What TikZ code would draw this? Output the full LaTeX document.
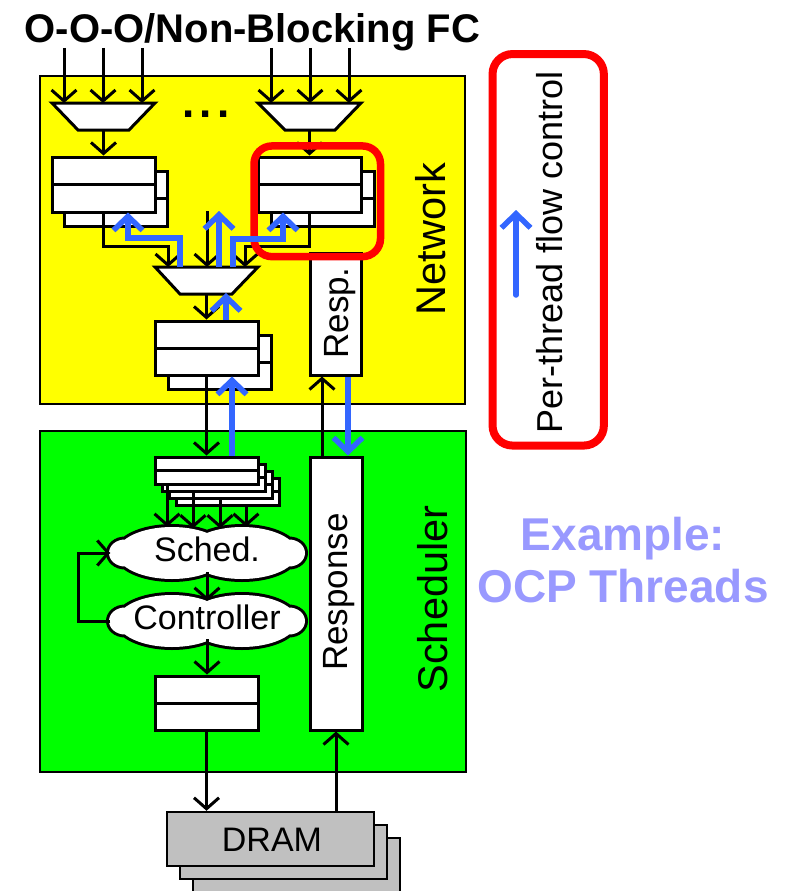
\documentclass[tikz,border=0pt]{standalone}
\usepackage{fontspec}
\setmainfont{Liberation Sans}
\usetikzlibrary{arrows.meta,shapes.geometric,calc}
\definecolor{ylw}{RGB}{255,255,0}
\definecolor{grn}{RGB}{0,255,0}
\definecolor{flowblue}{RGB}{51,102,255}
\definecolor{exblue}{RGB}{153,153,255}
\definecolor{dramgray}{RGB}{192,192,192}
\definecolor{redline}{RGB}{255,0,0}
\begin{document}
\begin{tikzpicture}[x=1pt,y=-1pt,
  arr/.style={line width=3pt,-{Straight Barb[length=11pt,width=25pt]}},
  barr/.style={line width=5.5pt,draw=flowblue,-{Straight Barb[length=14pt,width=29pt]}},
  buf/.style={draw,fill=white,line width=3pt,inner sep=0pt,minimum width=103pt,minimum height=55pt,
    path picture={\draw[line width=3pt] (path picture bounding box.west) -- (path picture bounding box.east);}},
  sbuf/.style={buf,minimum height=27pt},
  plainbox/.style={draw,fill=white,line width=3pt,inner sep=0pt},
  drambox/.style={draw,fill=dramgray,line width=2.5pt,inner sep=0pt,minimum width=207pt,minimum height=54pt},
  mux/.style={draw,fill=white,line width=3pt},
  region/.style={draw,line width=2pt,inner sep=0pt,anchor=north west},
  hilite/.style={draw=redline,line width=7.5pt,rounded corners=18pt,inner sep=0pt},
  anchorell/.style={ellipse,inner sep=0pt,minimum width=193pt,minimum height=52pt},
  lbl/.style={font=\fontsize{34}{40}\selectfont,anchor=base},
]
\useasboundingbox (0,0) rectangle (787,891);

% regions
\node[region,fill=ylw,minimum width=425pt,minimum height=328pt] (network) at (39,75) {};
\node[region,fill=grn,minimum width=426pt,minimum height=341pt] (scheduler) at (39,430) {};

% title
\node[font=\fontsize{40}{48}\selectfont\bfseries,anchor=base,inner sep=0pt] (title) at (252.5,43) {O-O-O/Non-Blocking FC};

% muxes
\draw[mux] (52,103) -- (155,103) -- (129,130) -- (78,130) -- cycle;
\draw[mux] (258,103) -- (361,103) -- (335,130) -- (285,130) -- cycle;
\draw[mux] (155,267) -- (258,267) -- (232,294) -- (180,294) -- cycle;
\coordinate (lmuxout) at (103.5,130);
\coordinate (rmuxout) at (309.5,130);
\coordinate (cmuxout) at (206.5,294);
\coordinate (cmA) at (168,267);
\coordinate (cmB) at (207,267);
\coordinate (cmC) at (245,267);
\coordinate (cmIn) at (207,211);
\coordinate (cmBlueL) at (180,267);
\coordinate (cmBlueM) at (219,267);
\coordinate (cmBlueMtip) at (219,211);
\coordinate (cmBlueR) at (233,267);
\coordinate (cmBlueBot) at (226,293);

\node[font=\fontsize{44}{44}\selectfont\bfseries,anchor=base,inner sep=0pt] (dots) at (206,117) {.\kern5pt.\kern5pt.};

% input arrows
\foreach \xx [count=\i] in {64,103,142,271,310,349}{
  \coordinate (inS\i) at (\xx,48);
  \coordinate (inE\i) at (\xx,103);
  \draw[arr] (inS\i) -- (inE\i);
}

% buffers in network
\node[buf] (lbfb) at (115.5,198.5) {};
\node[buf] (lbf) at (103.5,184.5) {};
\node[buf] (rbfb) at (322.5,198.5) {};
\node[buf] (rbf) at (309.5,184.5) {};
\node[buf,minimum height=54pt] (cbfb) at (219.5,362) {};
\node[buf,minimum height=54pt] (cbf) at (206.5,348) {};

% response boxes
\node[plainbox,minimum width=51pt,minimum height=122pt] (resp) at (335.5,314) {};
\node[rotate=90,anchor=base,font=\fontsize{35}{40}\selectfont,inner sep=0pt] (resplbl) at (348,313) {Resp.};
\node[plainbox,minimum width=52pt,minimum height=273pt] (response) at (336,593.5) {};
\node[rotate=90,anchor=base,font=\fontsize{35}{40}\selectfont,inner sep=0pt] (responselbl) at (347,592) {Response};

% scheduler buffer stack
\node[sbuf] (sb4) at (227.5,491.5) {};
\node[sbuf] (sb3) at (220.5,484.5) {};
\node[sbuf] (sb2) at (213.5,477.5) {};
\node[sbuf] (sb1) at (206.5,470.5) {};

% clouds
\foreach \cy in {553,621}{
  \draw[line width=6pt,fill=white] (172,\cy) ellipse [x radius=55pt,y radius=26pt]
    (242,\cy) ellipse [x radius=55pt,y radius=26pt]
    (125,\cy) ellipse [x radius=16pt,y radius=13.5pt]
    (289,\cy) ellipse [x radius=16pt,y radius=13.5pt];
  \fill[white] (172,\cy) ellipse [x radius=55pt,y radius=26pt]
    (242,\cy) ellipse [x radius=55pt,y radius=26pt]
    (125,\cy) ellipse [x radius=16pt,y radius=13.5pt]
    (289,\cy) ellipse [x radius=16pt,y radius=13.5pt];
}
\node[anchorell] (sched) at (207,553) {};
\node[anchorell] (ctrl) at (207,621) {};
\node[lbl] (schedlbl) at (207,561) {Sched.};
\node[lbl] (ctrllbl) at (207,629) {Controller};

% lower buffer
\node[buf,minimum height=54pt] (lowbuf) at (206.5,703) {};

% DRAM
\node[drambox] (dram3) at (296.5,865) {};
\node[drambox] (dram2) at (283.5,852) {};
\node[drambox] (dram1) at (270.5,839) {};
\node[lbl] (dramlbl) at (272,851) {DRAM};

% region labels
\node[rotate=90,anchor=base,font=\fontsize{41.5}{48}\selectfont,inner sep=0pt] (netlbl) at (445,239) {Network};
\node[rotate=90,anchor=base,font=\fontsize{41.5}{48}\selectfont,inner sep=0pt] (schlbl) at (447,599) {Scheduler};

% black connectors
\draw[arr] (lmuxout) -- (lbf.north);
\draw[arr] (rmuxout) -- (rbf.north);
\draw[arr] (lbf.south) -- ++(0,33) -| (cmA);
\draw[arr] (rbf.south) -- ++(0,33) -| (cmC);
\draw[arr] (cmIn) -- (cmB);
\draw[arr] (cmuxout) -- (cbf.north);
\draw[arr] (cbf.south) -- (sb1.north);
\draw[arr] ([xshift=-14pt]response.north) -- ([xshift=-13.5pt]resp.south);
\draw[arr] ([xshift=-39.5pt]sb1.south) -- ([xshift=-39.5pt]sb1.south |- sched.north);
\draw[arr] ([xshift=-20.5pt]sb2.south) -- ([xshift=-20.5pt,yshift=-1.5pt]sb2.south |- sched.north);
\draw[arr] ([xshift=-0.5pt]sb3.south) -- ([xshift=-0.5pt,yshift=-1.5pt]sb3.south |- sched.north);
\draw[arr] ([xshift=18.5pt]sb4.south) -- ([xshift=18.5pt]sb4.south |- sched.north);
\draw[arr] ([yshift=7pt]sched.south) -- ([yshift=-6pt]ctrl.north);
\draw[arr] (ctrl.west) -- ++(-32,0) |- (sched.west);
\draw[arr] ([yshift=8pt]ctrl.south) -- (ctrl.south |- lowbuf.north);
\draw[arr] (lowbuf.south) -- (lowbuf.south |- dram1.north);
\draw[arr] (dram1.north -| response.south) -- (response.south);

% red highlight
\node[hilite,minimum width=126.5pt,minimum height=110.7pt] (focus) at (317.25,201.3) {};

% blue flow-control arrows
\draw[barr] (cmBlueL) -- ++(0,-29) -| ([xshift=24.5pt,yshift=1pt]lbf.south);
\draw[barr] (cmBlueM) -- (cmBlueMtip);
\draw[barr] (cmBlueR) -- ++(0,-28) -| ([xshift=-26.5pt,yshift=1pt]rbf.south);
\draw[barr] ([xshift=19.5pt]cbf.north) -- (cmBlueBot);
\draw[barr] ([xshift=25.5pt]sb1.north) -- ([xshift=25.5pt]cbf.south);
\draw[barr] ([xshift=12.5pt]resp.south) -- ([xshift=12pt]response.north);

% legend
\node[hilite,line width=8pt,rounded corners=20pt,minimum width=111.3pt,minimum height=391.5pt] (legend) at (548.2,249.8) {};
\node[rotate=90,anchor=base,font=\fontsize{36}{40}\selectfont,inner sep=0pt] (legendlbl) at (562,252.5) {Per-thread flow control};
\coordinate (legA) at (516,295);
\coordinate (legB) at (516,210);
\draw[barr,line cap=round] (legA) -- (legB);

% example
\node[font=\fontsize{46}{52}\selectfont\bfseries,text=exblue,anchor=base,inner sep=0pt] (ex1) at (623,550) {Example:};
\node[font=\fontsize{46}{52}\selectfont\bfseries,text=exblue,anchor=base,inner sep=0pt] (ex2) at (623,602) {OCP Threads};
\end{tikzpicture}
\end{document}
